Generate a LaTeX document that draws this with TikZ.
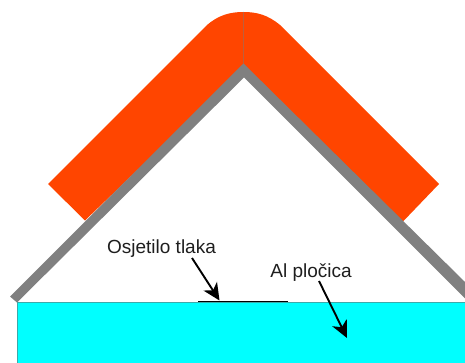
\documentclass[tikz,border=0pt]{standalone}
\usepackage{fontspec}
\setmainfont{Liberation Sans}
\usetikzlibrary{arrows.meta}
\definecolor{padcol}{RGB}{255,69,0}
\definecolor{seamcol}{RGB}{190,95,60}
\definecolor{bandcol}{RGB}{128,128,128}
\definecolor{platecol}{RGB}{0,255,255}
\definecolor{plateedge}{RGB}{60,170,170}
\definecolor{textcol}{RGB}{30,30,30}
\tikzset{
  label text/.style={font=\fontsize{19}{22}\selectfont, text=textcol, inner sep=0pt},
  pointer/.style={line width=1.9pt, black, -{Stealth[length=17pt,width=16pt,inset=5pt]}},
}
\begin{document}
\begin{tikzpicture}[x=1pt,y=-1pt]
\useasboundingbox (0,0) rectangle (465,363);
% aluminium plate
\fill[platecol] (17,302.5) rectangle (465,363);
\draw[plateedge,line width=0.7pt] (17,363) -- (17,302.5) -- (465,302.5);
% orange pad
\fill[padcol] (48,184) -- (206,26) .. controls (218,15) and (230,12) .. (243.5,12)
  .. controls (257,12) and (268,15) .. (280,25) -- (439,184) -- (403,221.5)
  -- (243.5,68) -- (85,220.5) -- cycle;
\draw[seamcol,line width=1pt] (243.5,12) -- (243.5,66);
% grey band
\fill[bandcol] (10,296.5) -- (243.5,63.5) -- (465,282) -- (465,298.5) -- (244,77.5) -- (17,302.5) -- cycle;
% sensor
\coordinate (sensorL) at (198,301.5);
\coordinate (sensorR) at (288,301.5);
\draw[black,line width=1.7pt] (sensorL) -- (sensorR);
% labels
\node[label text] (osj) at (161.5,249) {Osjetilo tlaka};
\node[label text] (alp) at (311,273) {Al pločica};
\coordinate (osjS) at (192,258);
\coordinate (osjE) at (219.5,300.5);
\coordinate (alpS) at (319,281);
\coordinate (alpE) at (347,338);
\draw[pointer] (osjS) -- (osjE);
\draw[pointer] (alpS) -- (alpE);
\end{tikzpicture}
\end{document}
